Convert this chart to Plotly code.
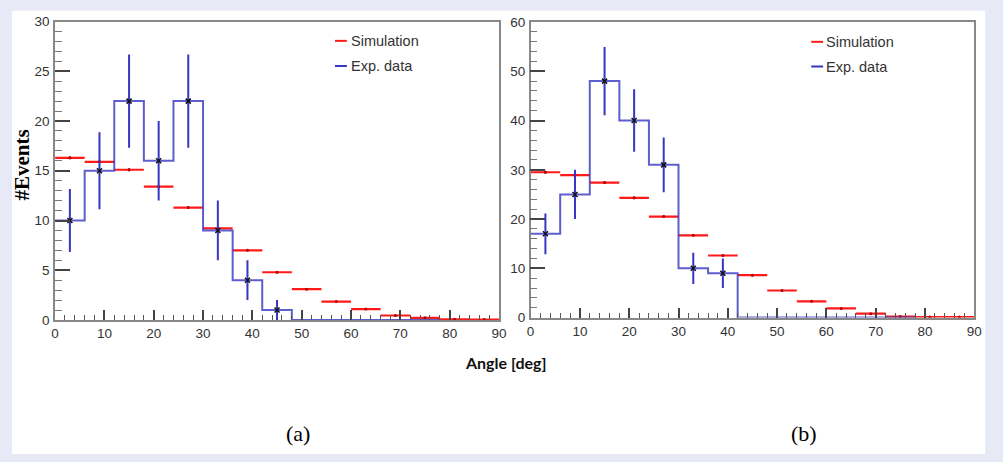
import numpy as np
import plotly.graph_objects as go

# ---------------- data ----------------
bin_edges = [0, 6, 12, 18, 24, 30, 36, 42, 48, 54, 60, 66, 72, 78, 84, 90]

# panel (a)
sim_a = [16.3, 15.9, 15.1, 13.4, 11.3, 9.2, 7.0, 4.8, 3.1, 1.85, 1.1, 0.45, 0.22, 0.07, 0.05]
sim_err_a = [0.15, 0.15, 0.15, 0.15, 0.12, 0.12, 0.1, 0.1, 0.08, 0.08, 0.06, 0.05, 0.04, 0.03, 0.03]
exp_a = [10, 15, 22, 16, 22, 9, 4, 1, 0, 0, 0, 0, 0]

# panel (b)
sim_b = [29.5, 28.9, 27.4, 24.3, 20.5, 16.7, 12.6, 8.6, 5.5, 3.3, 1.85, 0.8, 0.2, 0.1, 0.1]
sim_err_b = [0.3, 0.3, 0.3, 0.3, 0.25, 0.25, 0.2, 0.2, 0.15, 0.15, 0.1, 0.1, 0.05, 0.05, 0.05]
exp_b = [17, 25, 48, 40, 31, 10, 9, 0, 0, 0, 0, 0, 0]

x_ticks = [0, 10, 20, 30, 40, 50, 60, 70, 80, 90]
legend_labels = ["Simulation", "Exp. data"]
panel_labels = ["(a)", "(b)"]
x_title = "Angle [deg]"
y_title = "#Events"

# ---------------- geometry helpers ----------------
W, H = 1003, 462
def px(x):
    return x / W
def py(y):
    return 1 - y / H

RED = "#ff1a1a"
BLUE = "#3636c4"
LAV = "#e7eaf6"

fig = go.Figure()

def add_panel(sim, sim_err, exp, xa, ya):
    edges = np.array(bin_edges, dtype=float)
    centers = (edges[:-1] + edges[1:]) / 2
    half = (edges[1:] - edges[:-1]) / 2
    # simulation: horizontal bin bars with small vertical errors
    fig.add_trace(go.Scatter(
        x=centers[:len(sim)], y=sim, mode="markers",
        marker=dict(size=3, color="#b00000"),
        error_x=dict(type="data", array=half[:len(sim)], thickness=2.2, width=0, color=RED),
        error_y=dict(type="data", array=sim_err, thickness=1.5, width=0, color="#c00000"),
        xaxis=xa, yaxis=ya, showlegend=False, hoverinfo="skip"))
    # experimental step histogram
    n = len(exp)
    sx = list(edges[:n + 1])
    sy = list(exp) + [exp[-1]]
    fig.add_trace(go.Scatter(
        x=sx, y=sy, mode="lines", line=dict(color=BLUE, width=2, shape="hv"),
        opacity=0.8, xaxis=xa, yaxis=ya, showlegend=False, hoverinfo="skip"))
    # experimental points with sqrt(N) error bars
    ex = [c for c, v in zip(centers[:n], exp) if v > 0]
    ey = [v for v in exp if v > 0]
    fig.add_trace(go.Scatter(
        x=ex, y=ey, mode="markers",
        marker=dict(symbol="x-thin", size=5, color="black", line=dict(width=1.5, color="#111")),
        error_y=dict(type="data", array=list(np.sqrt(ey)), thickness=2, width=0, color=BLUE),
        xaxis=xa, yaxis=ya, showlegend=False, hoverinfo="skip"))

add_panel(sim_a, sim_err_a, exp_a, "x", "y")
add_panel(sim_b, sim_err_b, exp_b, "x2", "y2")

tickfont = dict(family="Liberation Sans, Arial", size=13.5, color="#333")

def xaxis_cfg(domain, anchor):
    return dict(domain=domain, anchor=anchor, range=[0, 90], tickvals=x_ticks,
                ticks="inside", ticklen=10, tickwidth=1.5, tickcolor="#444",
                minor=dict(dtick=2, ticks="inside", ticklen=5, tickwidth=1.2, tickcolor="#555"),
                showline=True, linecolor="#888", linewidth=1.5, mirror=True,
                showgrid=False, zeroline=False, tickfont=tickfont, ticklabelstandoff=0)

def yaxis_cfg(domain, anchor, ymax, dtick, mdtick):
    return dict(domain=domain, anchor=anchor, range=[0, ymax], dtick=dtick,
                ticks="inside", ticklen=15, tickwidth=1.5, tickcolor="#444",
                minor=dict(dtick=mdtick, ticks="inside", ticklen=7, tickwidth=1.2, tickcolor="#777"),
                showline=True, linecolor="#888", linewidth=1.5, mirror=True,
                showgrid=False, zeroline=False, tickfont=tickfont, ticklabelstandoff=1)

fig.update_layout(
    width=W, height=H, margin=dict(l=0, r=0, t=0, b=0),
    paper_bgcolor=LAV, plot_bgcolor="white", showlegend=False,
    xaxis=xaxis_cfg([px(51.7), px(501)], "y"),
    yaxis=yaxis_cfg([py(323.5), py(15)], "x", 30, 5, 1),
    xaxis2=xaxis_cfg([px(533), px(982)], "y2"),
    yaxis2=yaxis_cfg([py(321), py(15.5)], "x2", 60, 10, 2),
)

shapes = [dict(type="rect", xref="paper", yref="paper", x0=px(8), x1=px(993), y0=py(462), y1=py(4),
               fillcolor="white", line=dict(width=0), layer="below")]
annotations = []

# legends (one per panel)
for (lx0, lx1, tx, y1, y2) in [(335, 347, 349, 35, 61), (817, 829, 830, 36, 61.5)]:
    for yy, col, lab in [(y1, RED, legend_labels[0]), (y2, BLUE, legend_labels[1])]:
        shapes.append(dict(type="line", xref="paper", yref="paper", x0=px(lx0), x1=px(lx1),
                           y0=py(yy), y1=py(yy), line=dict(color=col, width=2)))
        annotations.append(dict(x=px(tx), y=py(yy), xref="paper", yref="paper", text=lab,
                                showarrow=False, xanchor="left", yanchor="middle",
                                font=dict(family="Liberation Sans, Arial", size=14.5, color="#333")))

annotations.append(dict(x=px(18), y=py(163), xref="paper", yref="paper", text="<b>" + y_title + "</b>",
                        textangle=-90, showarrow=False, xanchor="center", yanchor="middle",
                        font=dict(family="Liberation Serif, Times New Roman", size=21, color="black")))
annotations.append(dict(x=px(508), y=py(367), xref="paper", yref="paper", text="<b>" + x_title + "</b>",
                        showarrow=False, xanchor="center", yanchor="middle",
                        font=dict(family="Lato, Calibri", size=16, color="#111")))
for lab, xx in zip(panel_labels, [298, 810]):
    annotations.append(dict(x=px(xx), y=py(441), xref="paper", yref="paper", text=lab,
                            showarrow=False, xanchor="center", yanchor="middle",
                            font=dict(family="Liberation Serif, Times New Roman", size=22, color="black")))

fig.update_layout(shapes=shapes, annotations=annotations)
fig.write_html("out.html", config={"displayModeBar": False},
               post_script="document.body.style.margin='0';document.body.style.padding='0';")
